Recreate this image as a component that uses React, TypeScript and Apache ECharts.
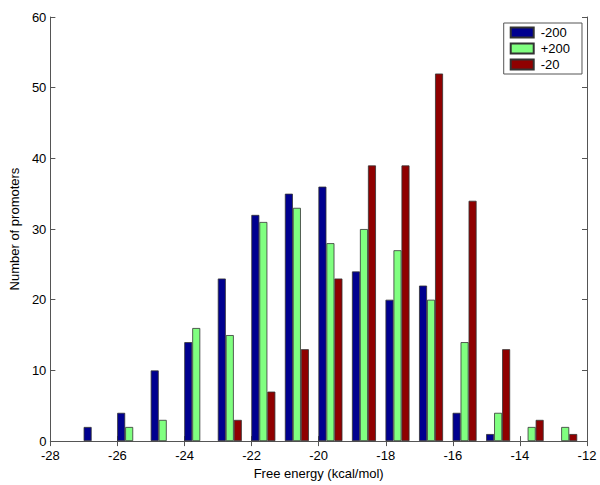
import React, { useEffect, useRef } from "react";
import * as echarts from "echarts";

const binCenters = [-26.65, -25.65, -24.65, -23.65, -22.65, -21.65, -20.65, -19.65, -18.65, -17.65, -16.65, -15.65, -14.65, -13.65, -12.65];
const seriesNames = ["-200", "+200", "-20"];
const minus200 = [2, 4, 10, 14, 23, 32, 35, 36, 24, 20, 22, 4, 1, 0, 0];
const plus200 = [0, 2, 3, 16, 15, 31, 33, 28, 30, 27, 20, 14, 4, 2, 2];
const minus20 = [0, 0, 0, 0, 3, 7, 13, 23, 39, 39, 52, 34, 13, 3, 1];
const colors = ["#00008f", "#80ff80", "#8f0000"];

const FONT = "Liberation Sans, Arial, sans-serif";

export default function App() {
  const ref = useRef<HTMLDivElement>(null);
  useEffect(() => {
    if (!ref.current) return;
    const chart = echarts.init(ref.current, null, { renderer: "svg" });
    const values = [minus200, plus200, minus20];
    const axisLine = { show: true, lineStyle: { color: "#555", width: 1 } };
    const tick = { show: true, inside: true, length: 5, lineStyle: { color: "#555" } };
    const label = { color: "#000", fontSize: 13, fontFamily: FONT };
    chart.setOption({
      animation: false,
      backgroundColor: "#fff",
      grid: { left: 39, right: 13, top: 17, bottom: 36, containLabel: false },
      legend: {
        orient: "vertical",
        right: 18,
        top: 23,
        backgroundColor: "#fff",
        borderColor: "#555",
        borderWidth: 1,
        borderRadius: 0,
        padding: [3, 12, 3, 6],
        itemWidth: 23,
        itemHeight: 10,
        itemGap: 3,
        icon: "rect",
        textStyle: { color: "#000", fontSize: 13, fontFamily: FONT, padding: [0, 0, 0, 2] },
        data: seriesNames,
      },
      xAxis: [
        {
          type: "value",
          min: -28,
          max: -12,
          interval: 2,
          name: "Free energy (kcal/mol)",
          nameLocation: "middle",
          nameGap: 20,
          nameTextStyle: { color: "#000", fontSize: 13, fontFamily: FONT },
          axisLine,
          axisTick: tick,
          axisLabel: { ...label, margin: 8, lineHeight: 13 },
          splitLine: { show: false },
        },
        {
          type: "value",
          position: "top",
          min: -28,
          max: -12,
          interval: 2,
          axisLine,
          axisTick: tick,
          axisLabel: { show: false },
          splitLine: { show: false },
        },
      ],
      yAxis: [
        {
          type: "value",
          min: 0,
          max: 60,
          interval: 10,
          name: "Number of promoters",
          nameLocation: "middle",
          nameGap: 14,
          nameTextStyle: { color: "#000", fontSize: 13, fontFamily: FONT },
          axisLine,
          axisTick: tick,
          axisLabel: { ...label, margin: 4, lineHeight: 11 },
          splitLine: { show: false },
        },
        {
          type: "value",
          position: "right",
          min: 0,
          max: 60,
          interval: 10,
          axisLine,
          axisTick: tick,
          axisLabel: { show: false },
          splitLine: { show: false },
        },
      ],
      series: seriesNames.map((name, i) => ({
        name,
        type: "bar",
        xAxisIndex: 0,
        yAxisIndex: 0,
        barWidth: 8,
        barGap: "0%",
        data: binCenters.map((x, j) => [x, values[i][j] === 0 ? "-" : values[i][j]]),
        itemStyle: { color: colors[i], borderColor: "#333", borderWidth: 0.8 },
      })),
    });
    return () => chart.dispose();
  }, []);
  return (
    <div
      ref={ref}
      style={{ position: "fixed", left: 0, top: 0, width: 600, height: 485 }}
    />
  );
}
